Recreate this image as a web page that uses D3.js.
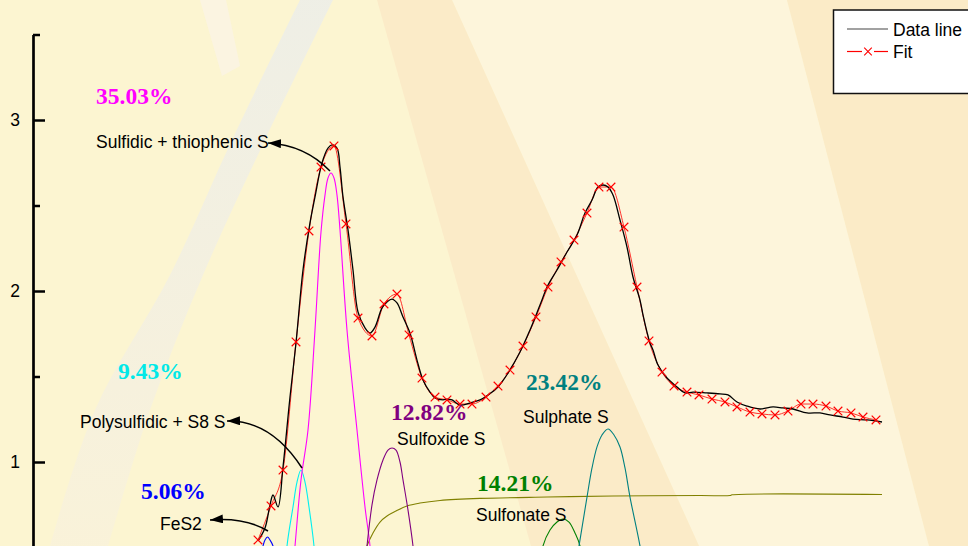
<!DOCTYPE html>
<html><head><meta charset="utf-8">
<script src="https://cdn.jsdelivr.net/npm/d3@7"></script>
<style>html,body{margin:0;padding:0;background:#FCF5D1;overflow:hidden}svg{display:block}</style>
</head><body>
<svg id="chart" width="968" height="546"></svg>
<script>
// ---------------- DATA ----------------
// Measured spectrum (binding energy, eV) and intensity
const dataEnergy = [162.00,162.14,162.24,162.30,162.40,162.50,162.64,162.76,162.90,163.04,
  163.14,163.28,163.40,163.48,163.58,163.64,163.70,163.80,163.90,164.00,
  164.14,164.24,164.34,164.48,164.58,164.68,164.78,164.90,165.04,165.18,
  165.30,165.44,165.54,165.70,165.78,165.88,166.04,166.24,166.44,166.60,
  166.80,167.00,167.24,167.44,167.64,167.80,167.98,168.18,168.38,168.54,
  168.68,168.80,168.90,169.00,169.10,169.24,169.38,169.50,169.64,169.70,
  169.78,169.84,169.90,170.00,170.18,170.38,170.54,170.70,170.98,171.24,
  171.40,171.58,171.78,172.04,172.30,172.50,172.70,172.98,173.24,173.44,
  173.70,173.90,174.18,174.48];
const dataIntensity = [0.538,0.614,0.749,0.807,0.737,0.971,1.380,1.696,2.123,2.398,
  2.550,2.749,2.836,2.854,2.836,2.725,2.550,2.357,2.123,1.877,
  1.784,1.754,1.789,1.901,1.936,1.953,1.930,1.848,1.754,1.596,
  1.480,1.409,1.374,1.363,1.368,1.363,1.333,1.345,1.363,1.392,
  1.439,1.520,1.643,1.772,1.918,2.035,2.123,2.228,2.327,2.456,
  2.532,2.608,2.620,2.608,2.561,2.415,2.257,2.082,1.947,1.860,
  1.760,1.696,1.655,1.567,1.491,1.439,1.404,1.409,1.404,1.398,
  1.392,1.351,1.327,1.310,1.322,1.316,1.310,1.287,1.287,1.275,
  1.263,1.251,1.246,1.234];

// Fit envelope (marker points)
const fitEnergy = [162.00,162.26,162.50,162.76,163.02,163.26,163.52,163.76,164.00,164.28,
  164.52,164.78,165.02,165.28,165.54,165.78,166.04,166.28,166.56,166.80,
  167.04,167.30,167.56,167.80,168.06,168.32,168.58,168.82,169.06,169.32,
  169.58,169.82,170.08,170.32,170.58,170.82,171.08,171.34,171.58,171.84,
  172.08,172.34,172.60,172.86,173.10,173.36,173.60,173.86,174.10,174.36];
const fitIntensity = [0.544,0.743,0.953,1.702,2.351,2.725,2.848,2.392,1.842,1.737,
  1.924,1.982,1.743,1.491,1.380,1.363,1.339,1.339,1.380,1.444,
  1.538,1.678,1.848,2.023,2.170,2.298,2.456,2.608,2.608,2.374,
  2.023,1.708,1.526,1.444,1.409,1.392,1.368,1.351,1.322,1.292,
  1.281,1.275,1.298,1.339,1.339,1.327,1.298,1.287,1.263,1.246];

// Component peaks
const fes2Energy = [162.00,162.10,162.14,162.19,162.24,162.30,162.38];
const fes2Intensity = [0.339,0.509,0.544,0.561,0.544,0.509,0.339];

const polyEnergy = [162.50,162.58,162.70,162.78,162.86,162.94,163.02,163.12,163.20];
const polyIntensity = [0.193,0.509,0.737,0.883,0.953,0.883,0.737,0.509,0.193];

const sulfidicEnergy = [162.64,162.74,162.86,163.00,163.14,163.26,163.34,163.40,163.46,163.52,163.58,163.64,163.78,163.98,164.14,164.24,164.32];
const sulfidicIntensity = [0.193,0.509,0.895,1.187,1.772,2.345,2.561,2.661,2.690,2.661,2.561,2.357,1.772,1.187,0.737,0.509,0.193];

const sulfoxideEnergy = [164.08,164.18,164.28,164.38,164.50,164.60,164.68,164.76,164.84,164.90,165.00,165.10,165.20];
const sulfoxideIntensity = [0.193,0.509,0.749,0.895,1.012,1.070,1.082,1.070,1.000,0.895,0.719,0.509,0.193];

const sulfonateEnergy = [167.54,167.70,167.84,167.98,168.10,168.22,168.34,168.44,168.58];
const sulfonateIntensity = [0.193,0.509,0.602,0.649,0.667,0.649,0.585,0.509,0.193];

const sulphateEnergy = [168.24,168.42,168.58,168.68,168.78,168.88,169.00,169.12,169.24,169.34,169.44,169.64,169.82];
const sulphateIntensity = [0.193,0.509,0.795,0.965,1.088,1.158,1.193,1.158,1.088,0.965,0.795,0.509,0.193];

const backgroundEnergy = [164.00,164.10,164.18,164.30,164.44,164.58,164.76,164.98,165.24,165.64,166.44,167.78,169.10,170.84,171.44,171.48,174.48];
const backgroundIntensity = [0.251,0.427,0.509,0.585,0.649,0.684,0.713,0.743,0.760,0.775,0.787,0.795,0.801,0.804,0.804,0.808,0.810];

const majorTicks = [1, 2, 3];
const minorTicks = [0.5, 1.5, 2.5, 3.5];
const percentLabels = ["35.03%", "9.43%", "5.06%", "12.82%", "23.42%", "14.21%"];
const nameLabels = ["Sulfidic + thiophenic S", "Polysulfidic + S8 S", "FeS2", "Sulfoxide S", "Sulphate S", "Sulfonate S"];
const legendLabels = ["Data line", "Fit"];

// ---------------- LAYOUT / STYLE ----------------
const W = 968, H = 546;
const svg = d3.select("#chart");
const x = d3.scaleLinear().domain([162, 174.48]).range([258, 882]);
const y = d3.scaleLinear().domain([0, 3.5]).range([633, 34.5]);

// background decoration
const defs = svg.append("defs");
const g1 = defs.append("linearGradient").attr("id","beam").attr("x1",0).attr("y1",0).attr("x2",0).attr("y2",1);
g1.append("stop").attr("offset","0%").attr("stop-color","#EDEEE8");
g1.append("stop").attr("offset","60%").attr("stop-color","#F4F0E0");
g1.append("stop").attr("offset","100%").attr("stop-color","#F9F2DA");

svg.append("rect").attr("width",W).attr("height",H).attr("fill","#FCF5D1");
svg.append("polygon").attr("points","452,0 787,0 929,546 699,546").attr("fill","#FDF5DB");
svg.append("polygon").attr("points","377,0 452,0 699,546 531,546").attr("fill","#FBEBC8");
svg.append("polygon").attr("points","787,0 968,0 968,546 929,546").attr("fill","#FBEBC7");
const beamLine = d3.line().curve(d3.curveCatmullRom);
const beamRight = [[333,0],[265,140],[203,275],[150,410],[108,546]];
const beamLeft = [[50,546],[95,410],[170,275],[232,140],[300,0]];
svg.append("path").attr("d", beamLine(beamRight) + "L" + beamLine(beamLeft).slice(1) + "Z")
  .attr("fill","url(#beam)").attr("opacity",0.9);
svg.append("polygon").attr("points","200,0 226,0 240,66 222,76").attr("fill","#FBF4E1");

// axis
const axisG = svg.append("g").attr("transform","translate(33,0)");
axisG.call(d3.axisLeft(y).tickValues(majorTicks).tickSize(-12).tickSizeOuter(0).tickPadding(13).tickFormat(d3.format("d")));
axisG.select(".domain").attr("stroke","#000").attr("stroke-width",2.7);
axisG.selectAll(".tick line").attr("stroke","#000").attr("stroke-width",2.5);
axisG.selectAll(".tick text").attr("font-family","'Liberation Sans', Arial, sans-serif").attr("font-size","17.5px").attr("fill","#000");
const minorG = svg.append("g").attr("transform","translate(33,0)");
minorG.call(d3.axisLeft(y).tickValues(minorTicks).tickSize(-7).tickSizeOuter(0).tickFormat(""));
minorG.select(".domain").remove();
minorG.selectAll(".tick line").attr("stroke","#000").attr("stroke-width",2.5);

// component curves
const comps = [
  {e: backgroundEnergy, v: backgroundIntensity, c: "#808000"},
  {e: fes2Energy, v: fes2Intensity, c: "#0000FF"},
  {e: polyEnergy, v: polyIntensity, c: "#00F0F0"},
  {e: sulfidicEnergy, v: sulfidicIntensity, c: "#FF00FF"},
  {e: sulfoxideEnergy, v: sulfoxideIntensity, c: "#800080"},
  {e: sulfonateEnergy, v: sulfonateIntensity, c: "#008000"},
  {e: sulphateEnergy, v: sulphateIntensity, c: "#008080"}
];
const compLine = d3.line().x(d => x(d[0])).y(d => y(d[1])).curve(d3.curveCatmullRom.alpha(0.5));
comps.forEach(cp => {
  svg.append("path").attr("d", compLine(cp.e.map((e,i)=>[e, cp.v[i]])))
    .attr("fill","none").attr("stroke", cp.c).attr("stroke-width",1.1);
});

// fit line (red) under data line
const fitPts = fitEnergy.map((e,i)=>[e, fitIntensity[i]]);
const fitLine = d3.line().x(d => x(d[0])).y(d => y(d[1])).curve(d3.curveMonotoneX);
svg.append("path").attr("d", fitLine(fitPts)).attr("fill","none").attr("stroke","#FF0000").attr("stroke-width",0.8);

// data line
const dataLine = d3.line().x(d => x(d[0])).y(d => y(d[1])).curve(d3.curveCatmullRom.alpha(0.5));
svg.append("path").attr("d", dataLine(dataEnergy.map((e,i)=>[e, dataIntensity[i]])))
  .attr("fill","none").attr("stroke","#000").attr("stroke-width",1.3);

// fit markers
const xMark = "M-4.3,-4.3L4.3,4.3M-4.3,4.3L4.3,-4.3";
svg.append("g").selectAll("path").data(fitPts).join("path")
  .attr("transform", d => `translate(${x(d[0])},${y(d[1])})`)
  .attr("d", xMark).attr("stroke","#FF0000").attr("stroke-width",1.2).attr("fill","none");

// annotations
defs.append("marker").attr("id","ah").attr("markerUnits","userSpaceOnUse")
  .attr("markerWidth",14).attr("markerHeight",10).attr("refX",13).attr("refY",4.5).attr("orient","auto")
  .append("path").attr("d","M0,0L13,4.5L0,9Z").attr("fill","#000");

const pctColors = ["#FF00FF","#00E8E8","#0000FF","#800080","#008080","#008000"];
const pctPos = [[96,104],[118,379],[141,499],[391,420],[526,390],[477,491]];
const namePos = [[96,148],[80,428],[160,530],[397,445],[523,423],[476,521]];
const arrows = [
  [[330,171],[305,145],[268,143]],
  [[302,468],[271,420],[227,421]],
  [[268,531],[245,517],[210,520]]
];
percentLabels.forEach((t,i) => {
  svg.append("text").attr("x",pctPos[i][0]).attr("y",pctPos[i][1]).text(t)
    .attr("font-family","'Liberation Serif','Times New Roman',serif").attr("font-weight","bold")
    .attr("font-size","23.5px").attr("fill",pctColors[i]);
});
nameLabels.forEach((t,i) => {
  svg.append("text").attr("x",namePos[i][0]).attr("y",namePos[i][1]).text(t)
    .attr("font-family","'Liberation Sans',Arial,sans-serif").attr("font-size","17.5px").attr("fill","#000");
});
arrows.forEach(a => {
  svg.append("path").attr("d", `M${a[0][0]},${a[0][1]}Q${a[1][0]},${a[1][1]} ${a[2][0]},${a[2][1]}`)
    .attr("fill","none").attr("stroke","#000").attr("stroke-width",1.5).attr("marker-end","url(#ah)");
});

// legend
const lg = svg.append("g");
lg.append("rect").attr("x",833.5).attr("y",10).attr("width",150).attr("height",83.5)
  .attr("fill","#fff").attr("stroke","#111").attr("stroke-width",1.5);
lg.append("line").attr("x1",847).attr("x2",888).attr("y1",29).attr("y2",29).attr("stroke","#444").attr("stroke-width",1.2);
lg.append("line").attr("x1",847).attr("x2",862).attr("y1",51.5).attr("y2",51.5).attr("stroke","#FF0000").attr("stroke-width",1.2);
lg.append("line").attr("x1",874).attr("x2",888).attr("y1",51.5).attr("y2",51.5).attr("stroke","#FF0000").attr("stroke-width",1.2);
lg.append("path").attr("transform","translate(868,51.5)").attr("d","M-3.8,-3.8L3.8,3.8M-3.8,3.8L3.8,-3.8").attr("stroke","#FF0000").attr("stroke-width",1.1);
legendLabels.forEach((t,i) => {
  lg.append("text").attr("x",893).attr("y",35.5 + i*22.5).text(t)
    .attr("font-family","'Liberation Sans',Arial,sans-serif").attr("font-size","17.5px").attr("fill","#000");
});
</script>
</body></html>
